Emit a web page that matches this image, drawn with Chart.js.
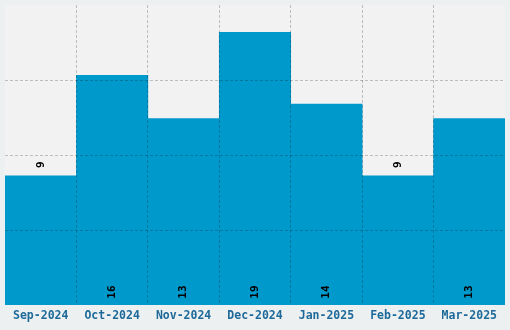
<!DOCTYPE html>
<html>
<head>
<meta charset="utf-8">
<script src="https://cdn.jsdelivr.net/npm/chart.js@4/dist/chart.umd.min.js"></script>
<style>
  html, body { margin: 0; padding: 0; background: #edf0f0; }
  #wrap { width: 510px; height: 330px; }
</style>
</head>
<body>
<div id="wrap"><canvas id="myChart" width="510" height="330"></canvas></div>
<script>
const months = ['Sep-2024', 'Oct-2024', 'Nov-2024', 'Dec-2024', 'Jan-2025', 'Feb-2025', 'Mar-2025'];
const counts = [9, 16, 13, 19, 14, 9, 13];

const yMax = Math.max(...counts) * 1.1;
const gridColor = 'rgba(0, 0, 0, 0.22)';

// fundo da área do gráfico
const areaBg = {
    id: 'areaBg',
    beforeDraw(chart) {
        const a = chart.chartArea;
        const c = chart.ctx;
        c.save();
        c.fillStyle = '#f2f2f2';
        c.fillRect(a.left, a.top, a.right - a.left, a.bottom - a.top);
        c.restore();
    }
};

// rótulos verticais com os valores
const valueLabels = {
    id: 'valueLabels',
    afterDatasetsDraw(chart) {
        const c = chart.ctx;
        const meta = chart.getDatasetMeta(0);
        const menor = Math.min(...counts);
        c.save();
        c.font = 'bold 11px "DejaVu Sans Mono", monospace';
        c.fillStyle = '#000';
        c.textBaseline = 'middle';
        c.textAlign = 'left';
        meta.data.forEach(function (bar, i) {
            c.save();
            c.translate(bar.x, 0);
            c.rotate(-Math.PI / 2);
            if (counts[i] === menor) {
                c.fillText(String(counts[i]), -(bar.y - 8), 0);
            } else {
                c.fillText(String(counts[i]), -(bar.base - 6), 0);
            }
            c.restore();
        });
        c.restore();
    }
};

const ctx = document.getElementById('myChart').getContext('2d');
const myChart = new Chart(ctx, {
    type: 'bar',
    data: {
        labels: months,
        datasets: [{
            data: counts,
            backgroundColor: '#0099cc',
            borderWidth: 0,
            categoryPercentage: 1,
            barPercentage: 1
        }]
    },
    options: {
        responsive: false,
        animation: false,
        layout: { padding: { left: 5, right: 5, top: 5, bottom: 3 } },
        plugins: {
            legend: { display: false },
            tooltip: { enabled: false }
        },
        scales: {
            x: {
                border: { display: false, dash: [3, 2] },
                grid: {
                    z: 1,
                    drawTicks: false,
                    color: function (c) {
                        return (c.type !== 'tick' || c.index === 0) ? 'rgba(0,0,0,0)' : gridColor;
                    }
                },
                ticks: {
                    padding: 4,
                    color: '#1d6a9a',
                    font: { family: '"DejaVu Sans Mono", monospace', size: 11.5, weight: 'bold' },
                    maxRotation: 0,
                    autoSkip: false
                }
            },
            y: {
                min: 0,
                max: yMax,
                border: { display: false, dash: [3, 2] },
                afterBuildTicks: function (axis) {
                    axis.ticks = [0, 1, 2, 3, 4].map(function (k) { return { value: yMax * k / 4 }; });
                },
                grid: {
                    z: 1,
                    drawTicks: false,
                    color: function (c) {
                        return (c.index === 0 || c.index === 4) ? 'rgba(0,0,0,0)' : gridColor;
                    }
                },
                ticks: { display: false }
            }
        }
    },
    plugins: [areaBg, valueLabels]
});
</script>
</body>
</html>
